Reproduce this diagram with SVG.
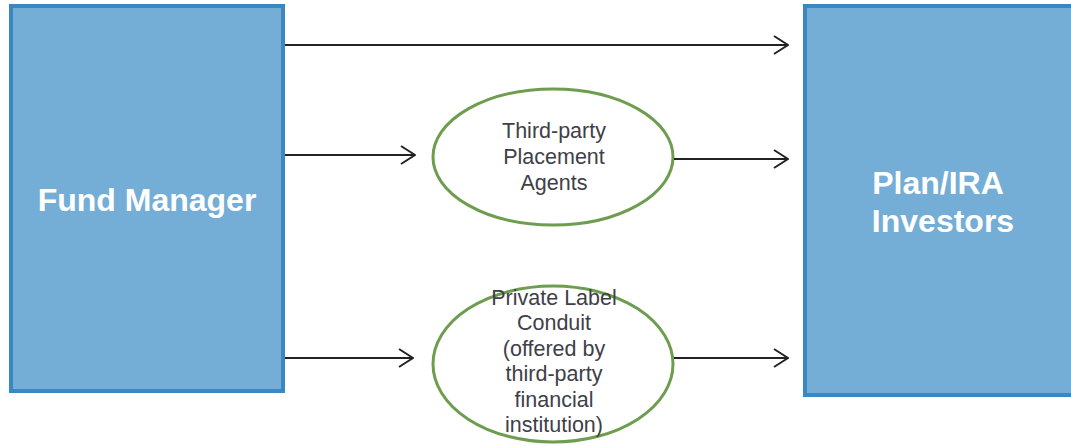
<svg xmlns="http://www.w3.org/2000/svg" width="1071" height="446" viewBox="0 0 1071 446">
<style>
.box{fill:#74aed7;stroke:#3a88c1;stroke-width:4}
.ell{fill:#fff;stroke:#6e9d4f;stroke-width:3}
.big{font-family:"Liberation Sans",Arial,sans-serif;font-weight:bold;font-size:32px;fill:#fff;text-anchor:middle}
.sm{font-family:"Liberation Sans",Arial,sans-serif;font-size:21.5px;fill:#404048;text-anchor:middle}
.con{stroke:#222;stroke-width:2;fill:none}
</style>
<defs>
<marker id="ah" viewBox="0 0 16 20" refX="15" refY="10" markerWidth="16" markerHeight="20" markerUnits="userSpaceOnUse" orient="auto">
<path d="M1,1 L15,10 L1,19" fill="none" stroke="#222" stroke-width="2"/>
</marker>
</defs>
<g id="fund-manager">
<rect class="box" x="11" y="6" width="272" height="385"/>
<text class="big" x="147" y="211">Fund Manager</text>
</g>
<g id="investors">
<rect class="box" x="805" y="6" width="272" height="389"/>
<text class="big" x="938" y="194">Plan/IRA</text>
<text class="big" x="943" y="232">Investors</text>
</g>
<g id="placement-agents">
<ellipse class="ell" cx="553" cy="157" rx="120" ry="68"/>
<text class="sm" x="554" y="138">Third-party</text>
<text class="sm" x="554" y="164">Placement</text>
<text class="sm" x="554" y="190">Agents</text>
</g>
<g id="private-label">
<ellipse class="ell" cx="553" cy="364" rx="120" ry="78"/>
<text class="sm" x="554" y="305">Private Label</text>
<text class="sm" x="554" y="330">Conduit</text>
<text class="sm" x="554" y="356">(offered by</text>
<text class="sm" x="554" y="381">third-party</text>
<text class="sm" x="554" y="407">financial</text>
<text class="sm" x="554" y="432">institution)</text>
</g>
<g id="connectors">
<line class="con" x1="285" y1="45" x2="788" y2="45" marker-end="url(#ah)"/>
<line class="con" x1="285" y1="155" x2="415" y2="155" marker-end="url(#ah)"/>
<line class="con" x1="674" y1="159" x2="788" y2="159" marker-end="url(#ah)"/>
<line class="con" x1="285" y1="358" x2="413" y2="358" marker-end="url(#ah)"/>
<line class="con" x1="674" y1="358" x2="788" y2="358" marker-end="url(#ah)"/>
</g>
</svg>
